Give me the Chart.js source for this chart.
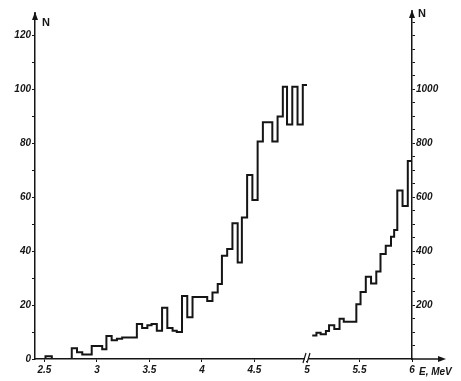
<!DOCTYPE html>
<html>
<head>
<meta charset="utf-8">
<script src="https://cdn.jsdelivr.net/npm/chart.js@4.4.1/dist/chart.umd.min.js"></script>
<style>
  html, body { margin: 0; padding: 0; background: #fff; }
  #wrap { width: 461px; height: 381px; position: relative; }
</style>
</head>
<body>
<div id="wrap"><canvas id="chart"></canvas></div>
<script>
// linker Teil des Spektrums (E < 5 MeV), linke Achse N
// Binkanten in MeV (letzter Wert = Ende des letzten Bins)
const lowEdges = [2.51, 2.57,
  2.76, 2.81, 2.86, 2.90, 2.95, 3.00, 3.05, 3.09, 3.14, 3.19,
  3.24, 3.29, 3.33, 3.38, 3.43, 3.48, 3.52, 3.57, 3.62, 3.67,
  3.72, 3.76, 3.81, 3.86, 3.91, 3.95, 4.00, 4.05, 4.10, 4.15,
  4.19, 4.24, 4.29, 4.34, 4.38, 4.43, 4.48, 4.53, 4.58, 4.62,
  4.67, 4.72, 4.77, 4.81, 4.86, 4.91, 4.96, 5.00];
const lowCounts = [1, 0,
  4, 2.5, 1.7, 1.7, 4.8, 4.8, 3.6, 8.5, 7, 7.5,
  8, 8, 8, 13, 11.5, 12.5, 13, 10.5, 19, 11.5,
  10.5, 10, 23.4, 15.5, 23, 23, 23, 21.5, 24.7, 27.8,
  38.3, 40.8, 50.4, 35.8, 52.5, 68.3, 59, 80.7, 87.8, 87.8,
  80.7, 90, 101, 87, 101, 87, 101.7];

// rechter Teil (E > 5 MeV), rechte Achse N
const highEdges = [5.05, 5.09, 5.13, 5.18, 5.21, 5.26, 5.31, 5.35, 5.47, 5.51,
  5.56, 5.61, 5.66, 5.70, 5.75, 5.80, 5.83, 5.86, 5.91, 5.96, 6.00];
const highCounts = [87, 97, 92, 104, 125, 111, 149, 138, 203, 249,
  305, 280, 325, 390, 420, 454, 479, 625, 568, 735];

// Achsen
const xTicks = [2.5, 3, 3.5, 4, 4.5, 5, 5.5, 6];
const xLabels = ['2.5', '3', '3.5', '4', '4.5', '5', '5.5', '6'];
const leftTicks = [0, 10, 20, 30, 40, 50, 60, 70, 80, 90, 100, 110, 120];
const leftLabels = [0, 20, 40, 60, 80, 100, 120];
const rightTicks = [50, 100, 150, 200, 250, 300, 350, 400, 450, 500, 550, 600,
  650, 700, 750, 800, 850, 900, 950, 1000, 1050, 1100, 1150, 1200, 1250];
const rightLabels = [200, 400, 600, 800, 1000];

const INK = '#151515';
const tickFont = { family: '"Liberation Sans", Arial, sans-serif', size: 10, style: 'italic', weight: 'bold' };

/**
 * Baut die Punkte einer Treppenkurve aus Binkanten und Inhalten.
 */
function histPoints(edges, counts, fromZero) {
    const pts = [];
    if (fromZero) pts.push({ x: edges[0], y: 0 });
    counts.forEach((c, i) => pts.push({ x: edges[i], y: c }));
    pts.push({ x: edges[edges.length - 1], y: counts[counts.length - 1] });
    return pts;
}

function arrow(ctx, x, y, dir) {
    ctx.beginPath();
    if (dir === 'up') {
        ctx.moveTo(x, y); ctx.lineTo(x - 3, y + 8); ctx.lineTo(x + 3, y + 8);
    } else {
        ctx.moveTo(x, y); ctx.lineTo(x - 8, y - 3); ctx.lineTo(x - 8, y + 3);
    }
    ctx.closePath();
    ctx.fill();
}

// Pfeile, Achsenbruch und Beschriftungen
const decor = {
    id: 'decor',
    afterDraw(chart) {
        const { ctx, chartArea: a, scales } = chart;
        ctx.save();
        ctx.strokeStyle = INK;
        ctx.fillStyle = INK;
        ctx.lineWidth = 1.5;

        // x-Achse über die rechte N-Achse hinaus
        ctx.beginPath();
        ctx.moveTo(a.right, a.bottom);
        ctx.lineTo(a.right + 30, a.bottom);
        ctx.stroke();
        arrow(ctx, a.right + 34, a.bottom, 'right');

        // Pfeile an den N-Achsen
        ctx.beginPath();
        ctx.moveTo(a.left, a.top); ctx.lineTo(a.left, a.top - 2);
        ctx.moveTo(a.right, a.top); ctx.lineTo(a.right, a.top - 4);
        ctx.stroke();
        arrow(ctx, a.left, a.top - 2, 'up');
        arrow(ctx, a.right, a.top - 4, 'up');

        // Achsenbruch bei 5 MeV
        const xb = scales.x.getPixelForValue(5);
        ctx.fillStyle = '#fff';
        ctx.fillRect(xb - 2, a.bottom - 2, 3, 4);
        ctx.fillStyle = INK;
        ctx.lineWidth = 1.2;
        ctx.beginPath();
        ctx.moveTo(xb - 4, a.bottom + 4); ctx.lineTo(xb - 1, a.bottom - 6);
        ctx.moveTo(xb, a.bottom + 4); ctx.lineTo(xb + 3, a.bottom - 6);
        ctx.stroke();

        // Beschriftungen
        ctx.font = 'bold 11px "Liberation Sans", Arial, sans-serif';
        ctx.textBaseline = 'alphabetic';
        ctx.textAlign = 'left';
        ctx.fillText('N', a.left + 7, a.top + 12);
        ctx.fillText('N', a.right + 6, a.top + 3);
        ctx.font = 'italic bold 10px "Liberation Sans", Arial, sans-serif';
        ctx.fillText('E, MeV', a.right + 7, a.bottom + 16);
        ctx.restore();
    }
};

const ctx = document.getElementById('chart');
new Chart(ctx, {
    type: 'line',
    data: {
        datasets: [
            { data: histPoints(lowEdges, lowCounts, true), yAxisID: 'y', stepped: 'before',
              borderColor: INK, borderWidth: 2, pointRadius: 0, fill: false },
            { data: histPoints(highEdges, highCounts, false), yAxisID: 'y2', stepped: 'before',
              borderColor: INK, borderWidth: 2, pointRadius: 0, fill: false }
        ]
    },
    options: {
        responsive: true, maintainAspectRatio: false, animation: false,
        layout: { padding: { top: 14, left: 0, right: 0, bottom: 0 } },
        plugins: { legend: { display: false }, tooltip: { enabled: false } },
        scales: {
            x: {
                type: 'linear', min: 2.41, max: 6.0,
                afterBuildTicks: s => { s.ticks = xTicks.map(v => ({ value: v })); },
                afterFit: s => { s.height = 22; },
                border: { color: INK, width: 1.5 },
                grid: { drawOnChartArea: false, color: INK, tickLength: 3 },
                ticks: { color: INK, font: tickFont, padding: 2, maxRotation: 0, autoSkip: false,
                         callback: (v, i) => xLabels[i] }
            },
            y: {
                position: 'left', min: 0, max: 128,
                afterBuildTicks: s => { s.ticks = leftTicks.map(v => ({ value: v })); },
                afterFit: s => { s.width = 35; },
                border: { color: INK, width: 1.5 },
                grid: { drawOnChartArea: false, color: INK, tickLength: 3 },
                ticks: { color: INK, font: tickFont, padding: 1, autoSkip: false,
                         callback: v => leftLabels.includes(v) ? String(v) : '' }
            },
            y2: {
                position: 'right', min: 0, max: 1280,
                afterBuildTicks: s => { s.ticks = rightTicks.map(v => ({ value: v })); },
                afterFit: s => { s.width = 49; },
                border: { color: INK, width: 1.5 },
                grid: { drawOnChartArea: false, color: INK, tickLength: 3 },
                ticks: { color: INK, font: tickFont, padding: 1, autoSkip: false,
                         callback: v => rightLabels.includes(v) ? String(v) : '' }
            }
        }
    },
    plugins: [decor]
});
</script>
</body>
</html>
